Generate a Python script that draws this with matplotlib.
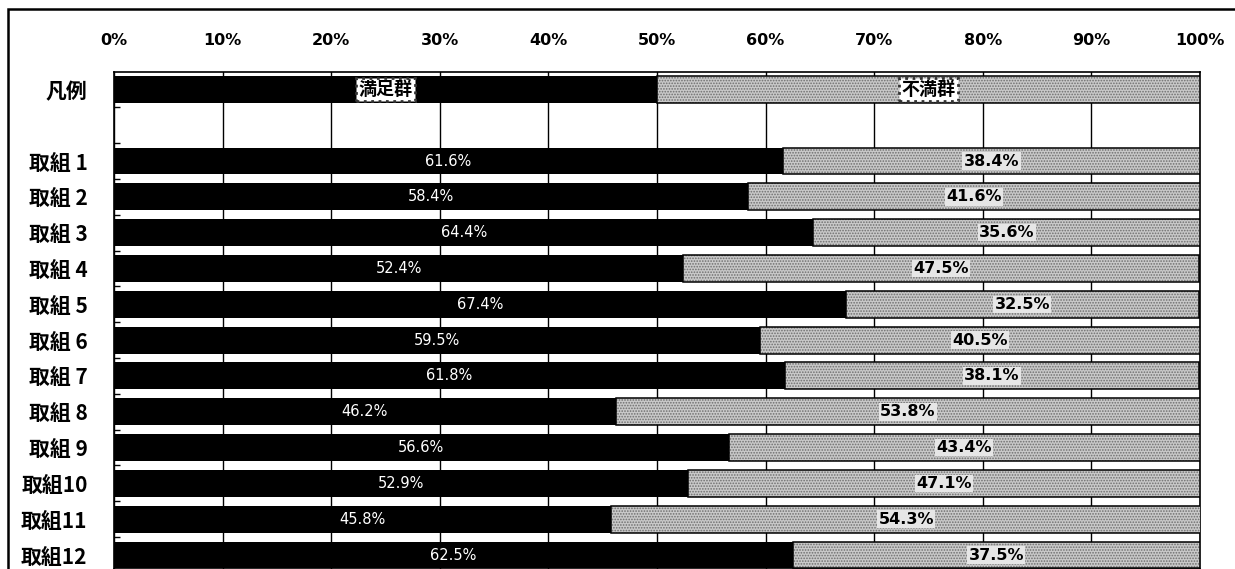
"""Satisfaction share per initiative (満足群 / 不満群), horizontal 100% stacked bars."""

import matplotlib

matplotlib.use("Agg")
import matplotlib.pyplot as plt
from matplotlib.patches import Rectangle
from matplotlib.ticker import FixedLocator, PercentFormatter

plt.rcParams["font.family"] = ["Noto Sans CJK JP", "DejaVu Sans"]
plt.rcParams["hatch.linewidth"] = 0.8

# data
categories = ["取組 1", "取組 2", "取組 3", "取組 4", "取組 5", "取組 6",
              "取組 7", "取組 8", "取組 9", "取組10", "取組11", "取組12"]
satisfied = [61.6, 58.4, 64.4, 52.4, 67.4, 59.5, 61.8, 46.2, 56.6, 52.9, 45.8, 62.5]
unsatisfied = [38.4, 41.6, 35.6, 47.5, 32.5, 40.5, 38.1, 53.8, 43.4, 47.1, 54.3, 37.5]
legend_label = "凡例"
legend_names = ["満足群", "不満群"]
legend_split = [50, 50]
x_ticks = list(range(0, 101, 10))

BLACK = "#000000"
GRAY = "#c9c9c9"
HATCH_COLOR = "#6e6e6e"
BAR_H = 0.75
NARROW = ["Liberation Sans Narrow", "DejaVu Sans"]

fig = plt.figure(figsize=(12.35, 5.69), dpi=100)
ax = fig.add_axes([114 / 1235, 0.0, (1200 - 114) / 1235, 1 - 72 / 569])

# outer frame of the scanned chart
fig.patches.append(
    Rectangle((8 / 1235, -0.05), 1.05, 1.05 - 9 / 569,
              transform=fig.transFigure, fill=False, edgecolor=BLACK,
              linewidth=1.8, zorder=0)
)


def gray_bar(y, left, width):
    ax.barh(y, width, left=left, height=BAR_H, color=GRAY, edgecolor=HATCH_COLOR,
            hatch="......", linewidth=0, zorder=3)
    ax.barh(y, width, left=left, height=BAR_H, fill=False, edgecolor=BLACK,
            linewidth=1.1, zorder=4)


# legend row
ax.barh(0, legend_split[0], height=BAR_H, color=BLACK, zorder=3)
gray_bar(0, legend_split[0], legend_split[1])
box = dict(boxstyle="square,pad=0.12", facecolor="white", edgecolor="#333333",
           linestyle=":", linewidth=2.0)
ax.text(legend_split[0] / 2, 0, legend_names[0], ha="center", va="center",
        fontsize=13, fontweight="bold", bbox=box, zorder=5)
ax.text(legend_split[0] + legend_split[1] / 2, 0, legend_names[1], ha="center",
        va="center", fontsize=13, fontweight="bold", bbox=box, zorder=5)

# data rows (row 1 is left blank as in the original)
rows = list(range(2, 2 + len(categories)))
for y, s, u in zip(rows, satisfied, unsatisfied):
    ax.barh(y, s, height=BAR_H, color=BLACK, zorder=3)
    gray_bar(y, s, u)
    ax.text(s / 2, y, f"{s:.1f}%", ha="center", va="center", color="white",
            fontsize=10.5, family=NARROW, zorder=5)
    ax.text(s + u / 2, y, f"{u:.1f}%", ha="center", va="center", color=BLACK,
            fontsize=11.5, fontweight="bold", family=NARROW, zorder=5,
            bbox=dict(boxstyle="square,pad=0.08", facecolor="#e6e6e6",
                      edgecolor="none"))

ax.set_xlim(0, 100)
ax.set_ylim(13.39, -0.485)

ax.xaxis.set_major_locator(FixedLocator(x_ticks))
ax.xaxis.set_major_formatter(PercentFormatter(decimals=0))
ax.xaxis.tick_top()
ax.tick_params(axis="x", top=False, pad=14, labelsize=11.5)
for lbl in ax.get_xticklabels():
    lbl.set_fontweight("bold")
    lbl.set_family("DejaVu Sans")
ax.grid(axis="x", color=BLACK, linewidth=1.0, zorder=1)
ax.set_axisbelow(True)

ax.set_yticks([0] + rows)
ax.set_yticklabels([legend_label] + categories, fontsize=15, fontweight="bold")
ax.yaxis.set_minor_locator(FixedLocator([r + 0.5 for r in range(0, 13)]))
ax.tick_params(axis="y", which="major", length=0, pad=19)
ax.tick_params(axis="y", which="minor", direction="in", length=4, width=1.0)

for side in ("top", "right", "left", "bottom"):
    ax.spines[side].set_linewidth(1.2)

fig.savefig("out.png", dpi=100)
